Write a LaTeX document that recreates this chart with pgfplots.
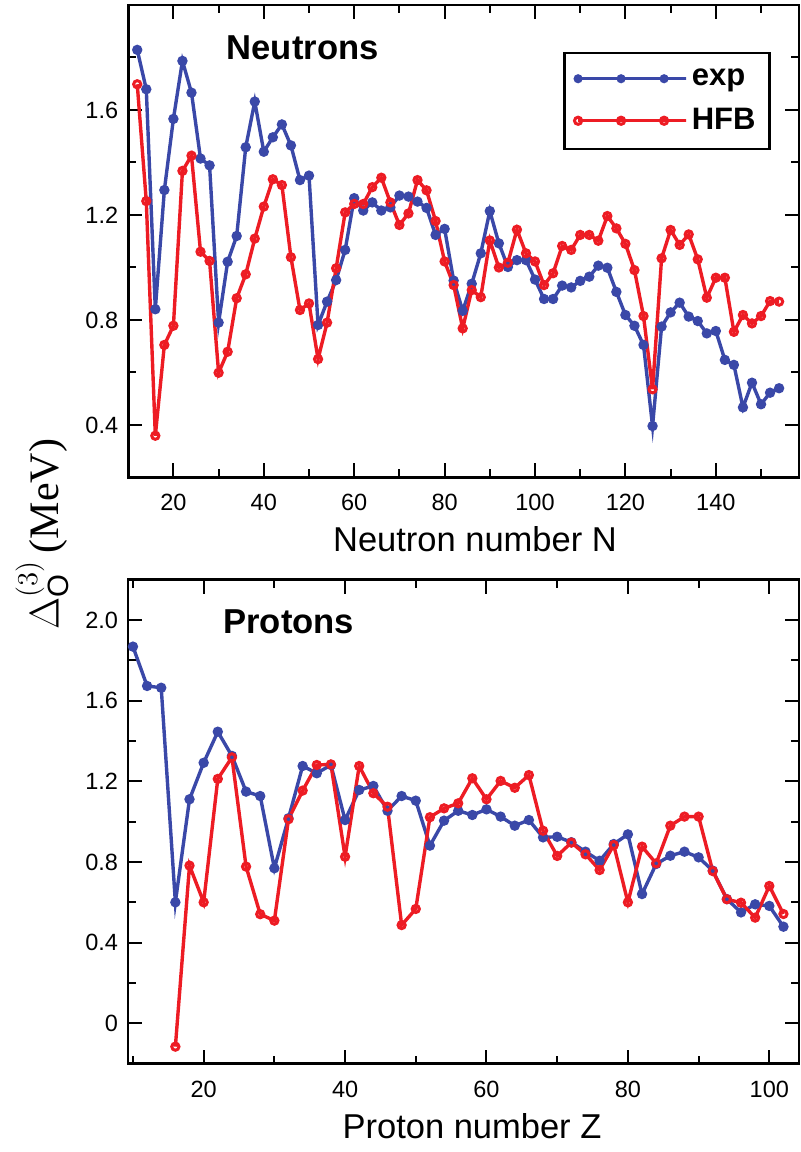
\documentclass[border=0pt]{standalone}
\usepackage{fontspec}
\setmainfont{Liberation Sans}
\newfontfamily\seriffont{Liberation Serif}
\usepackage{pgfplots}
\pgfplotsset{compat=1.18}
\definecolor{expblue}{RGB}{58,72,168}
\definecolor{hfbred}{RGB}{237,28,36}

\pgfplotstableread{
N v
12 1.829
14 1.679
16 0.841
18 1.295
20 1.566
22 1.787
24 1.666
26 1.415
28 1.389
30 0.790
32 1.022
34 1.120
36 1.458
38 1.632
40 1.441
42 1.496
44 1.545
46 1.465
48 1.333
50 1.350
52 0.781
54 0.870
56 0.952
58 1.067
60 1.264
62 1.217
64 1.248
66 1.217
68 1.229
70 1.274
72 1.270
74 1.251
76 1.227
78 1.124
80 1.147
82 0.950
84 0.835
86 0.938
88 1.054
90 1.215
92 1.092
94 1.002
96 1.028
98 1.028
100 0.954
102 0.880
104 0.880
106 0.931
108 0.924
110 0.949
112 0.965
114 1.007
116 0.999
118 0.907
120 0.819
122 0.778
124 0.705
126 0.396
128 0.775
130 0.829
132 0.866
134 0.813
136 0.796
138 0.749
140 0.758
142 0.648
144 0.629
146 0.467
148 0.561
150 0.479
152 0.523
154 0.540
}\nexp

\pgfplotstableread{
N v
12 1.698
14 1.253
16 0.359
18 0.705
20 0.778
22 1.368
24 1.426
26 1.060
28 1.025
30 0.599
32 0.679
34 0.883
36 0.974
38 1.110
40 1.232
42 1.336
44 1.314
46 1.039
48 0.838
50 0.863
52 0.651
54 0.790
56 0.997
58 1.210
60 1.242
62 1.242
64 1.306
66 1.342
68 1.248
70 1.162
72 1.206
74 1.333
76 1.294
78 1.177
80 1.023
82 0.933
84 0.768
86 0.914
88 0.887
90 1.103
92 1.000
94 1.018
96 1.144
98 1.054
100 1.023
102 0.933
104 0.978
106 1.082
108 1.067
110 1.124
112 1.124
114 1.102
116 1.196
118 1.149
120 1.090
122 0.990
124 0.815
126 0.536
128 1.035
130 1.143
132 1.086
134 1.126
136 1.031
138 0.885
140 0.961
142 0.961
144 0.755
146 0.819
148 0.787
150 0.815
152 0.872
154 0.870
}\nhfb

\pgfplotstableread{
Z v
10 1.868
12 1.673
14 1.664
16 0.600
18 1.111
20 1.292
22 1.446
24 1.326
26 1.149
28 1.127
30 0.769
32 1.017
34 1.276
36 1.240
38 1.281
40 1.008
42 1.157
44 1.177
46 1.054
48 1.127
50 1.104
52 0.881
54 1.005
56 1.054
58 1.033
60 1.061
62 1.025
64 0.980
66 1.008
68 0.922
70 0.925
72 0.898
74 0.851
76 0.806
78 0.889
80 0.937
82 0.641
84 0.790
86 0.831
88 0.851
90 0.823
92 0.757
94 0.616
96 0.550
98 0.590
100 0.582
102 0.479
}\pexp

\pgfplotstableread{
Z v
16 -0.116
18 0.782
20 0.600
22 1.212
24 1.319
26 0.777
28 0.541
30 0.509
32 1.012
34 1.154
36 1.281
38 1.284
40 0.826
42 1.276
44 1.141
46 1.074
48 0.487
50 0.567
52 1.022
54 1.066
56 1.091
58 1.215
60 1.111
62 1.202
64 1.168
66 1.231
68 0.955
70 0.830
72 0.896
74 0.838
76 0.760
78 0.884
80 0.600
82 0.876
84 0.793
86 0.980
88 1.025
90 1.025
92 0.755
94 0.615
96 0.598
98 0.524
100 0.681
102 0.542
}\phfb

\pgfplotsset{
  panel/.style={
    scale only axis, anchor=south west,
    axis line style={line width=1.4pt},
    tick align=inside, major tick length=7pt, minor tick length=4pt,
    every tick/.style={line width=1pt, black},
    tick label style={font=\fontsize{11.75}{14}\selectfont},
    /pgf/number format/assume math mode=true,
    xticklabel style={yshift=-5pt},
    yticklabel style={xshift=-1.5pt},
    clip=false,
  },
  expstyle/.style={color=expblue, line width=1.7pt, mark=*, mark size=1.7pt},
  hfbstyle/.style={color=hfbred, line width=1.7pt, mark=o, mark size=1.8pt, mark options={fill=white, line width=1.5pt}},
}

\begin{document}
\begin{tikzpicture}
\useasboundingbox (0pt,0pt) rectangle (400pt,576pt);

% ---------- Neutrons ----------
\begin{axis}[panel,
  at={(64.1pt,337.25pt)}, width=335.4pt, height=236.25pt,
  xmin=10, xmax=158.4, ymin=0.2, ymax=2.0,
  xtick={20,40,60,80,100,120,140},
  minor xtick={10,30,50,70,90,110,130,150},
  ytick={0.4,0.8,1.2,1.6}, yticklabels={0.4,0.8,1.2,1.6},
  minor ytick={0.6,1.0,1.4,1.8},
  legend style={at={(0.6486,0.9012)}, anchor=north west, draw=black, line width=1.2pt,
    font=\bfseries\fontsize{15.5}{18}\selectfont,
    inner xsep=5pt, inner ysep=6pt, row sep=6pt, cells={anchor=west}},
  legend image code/.code={
    \draw[#1, line width=1.1pt, densely dashed, every mark/.append style={solid}]
      plot coordinates {(0pt,0pt) (21.5pt,0pt) (43pt,0pt)};
    \path (0pt,0pt) rectangle (54pt,0pt);
  },
]
\addplot[expstyle] table[x=N, y=v] {\nexp};
\addlegendentry{exp}
\addplot[hfbstyle] table[x=N, y=v] {\nhfb};
\addlegendentry{HFB}
\end{axis}

% ---------- Protons ----------
\begin{axis}[panel,
  at={(64pt,44.2pt)}, width=335.5pt, height=241.95pt,
  xmin=9.3, xmax=104.2, ymin=-0.2, ymax=2.2,
  xtick={20,40,60,80,100},
  minor xtick={10,30,50,70,90},
  ytick={0,0.4,0.8,1.2,1.6,2.0}, yticklabels={0,0.4,0.8,1.2,1.6,2.0},
  minor ytick={0.2,0.6,1.0,1.4,1.8},
]
\addplot[expstyle] table[x=Z, y=v] {\pexp};
\addplot[hfbstyle] table[x=Z, y=v] {\phfb};
\end{axis}

% ---------- texts ----------
\node[anchor=base, font=\bfseries\fontsize{17.3}{20}\selectfont] at (151.3pt,546.3pt) {Neutrons};
\node[anchor=base, font=\bfseries\fontsize{17.3}{20}\selectfont] at (144.4pt,259.3pt) {Protons};
\node[anchor=base, font=\fontsize{17.25}{20}\selectfont] at (237.5pt,300.3pt) {Neutron number N};
\node[anchor=base, font=\fontsize{17.25}{20}\selectfont] at (236pt,6.5pt) {Proton number Z};
\node[rotate=90, font=\fontsize{21}{25}\selectfont] at (21pt,309pt) {$\Delta_{\mathrm{O}}^{(3)}$\,{\seriffont (MeV)}};
\end{tikzpicture}
\end{document}
